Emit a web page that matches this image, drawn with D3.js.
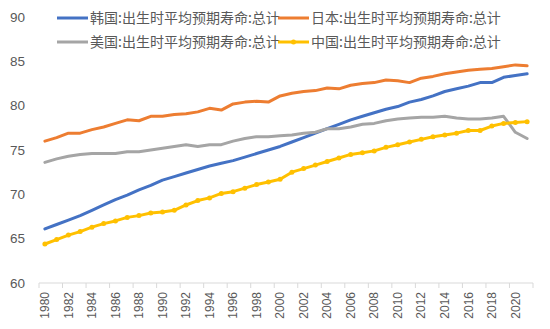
<!DOCTYPE html>
<html><head><meta charset="utf-8">
<script src="https://cdn.jsdelivr.net/npm/d3@7"></script>
<style>body{margin:0;background:#fff}svg{display:block}text{font-family:"Noto Sans CJK SC","Liberation Sans",Arial,sans-serif}.num{font-family:"Liberation Sans",Arial,sans-serif}</style>
</head><body><svg id="c" width="550" height="329"></svg>
<script>
const years = d3.range(1980, 2022);
const korea = [66.1,66.6,67.1,67.6,68.2,68.8,69.4,69.9,70.5,71.0,71.6,72.0,72.4,72.8,73.2,73.5,73.8,74.2,74.6,75.0,75.4,75.9,76.4,76.9,77.4,77.9,78.4,78.8,79.2,79.6,79.9,80.4,80.7,81.1,81.6,81.9,82.2,82.6,82.6,83.2,83.4,83.6];
const japan = [76.0,76.4,76.9,76.9,77.3,77.6,78.0,78.4,78.3,78.8,78.8,79.0,79.1,79.3,79.7,79.5,80.2,80.4,80.5,80.4,81.1,81.4,81.6,81.7,82.0,81.9,82.3,82.5,82.6,82.9,82.8,82.6,83.1,83.3,83.6,83.8,84.0,84.1,84.2,84.4,84.6,84.5];
const usa = [73.6,74.0,74.3,74.5,74.6,74.6,74.6,74.8,74.8,75.0,75.2,75.4,75.6,75.4,75.6,75.6,76.0,76.3,76.5,76.5,76.6,76.7,76.9,77.0,77.4,77.4,77.6,77.9,78.0,78.3,78.5,78.6,78.7,78.7,78.8,78.6,78.5,78.5,78.6,78.8,77.0,76.3];
const china = [64.4,64.9,65.4,65.8,66.3,66.7,67.0,67.4,67.6,67.9,68.0,68.2,68.8,69.3,69.6,70.1,70.3,70.7,71.1,71.4,71.7,72.5,72.9,73.3,73.7,74.1,74.5,74.7,74.9,75.3,75.6,75.9,76.2,76.5,76.7,76.9,77.2,77.2,77.7,78.0,78.1,78.2];
const yTicks = [60,65,70,75,80,85,90];
const series = [
  {name:"韩国:出生时平均预期寿命:总计", values:korea, color:"#4472C4", marker:false},
  {name:"日本:出生时平均预期寿命:总计", values:japan, color:"#ED7D31", marker:false},
  {name:"美国:出生时平均预期寿命:总计", values:usa, color:"#A5A5A5", marker:false},
  {name:"中国:出生时平均预期寿命:总计", values:china, color:"#FFC000", marker:true}
];
const svg = d3.select("#c");
const L=39, R=533, T=17, B=283;
const x = d3.scaleBand().domain(years).range([L,R]);
const y = d3.scaleLinear().domain([60,90]).range([B,T]);

// y labels
svg.append("g").selectAll("text").data(yTicks).join("text").attr("class","num")
  .attr("x",25).attr("y",d=>y(d)).attr("dy","0.35em").attr("text-anchor","end")
  .attr("font-size",13.5).attr("fill","#595959").text(d=>d);

// x axis
svg.append("line").attr("x1",L).attr("x2",R).attr("y1",B).attr("y2",B).attr("stroke","#D9D9D9").attr("stroke-width",1);
const tickYears = years.filter((d,i)=>i%2===0);
svg.append("g").selectAll("line").data(tickYears.concat([null])).join("line")
  .attr("x1",d=>d===null?R:x(d)).attr("x2",d=>d===null?R:x(d))
  .attr("y1",B).attr("y2",B+5).attr("stroke","#D9D9D9");
svg.append("g").selectAll("text").data(tickYears).join("text").attr("class","num")
  .attr("transform",d=>`translate(${x(d)+x.bandwidth()/2},292) rotate(-90)`)
  .attr("text-anchor","end").attr("dy","0.35em")
  .attr("font-size",12).attr("fill","#595959").text(d=>d);

// lines
const line = d3.line().x((d,i)=>x(years[i])+x.bandwidth()/2).y(d=>y(d));
series.forEach(s=>{
  svg.append("path").datum(s.values).attr("d",line).attr("fill","none")
    .attr("stroke",s.color).attr("stroke-width",3).attr("stroke-linejoin","round").attr("stroke-linecap","round");
  if(s.marker){
    svg.append("g").selectAll("circle").data(s.values).join("circle")
      .attr("cx",(d,i)=>x(years[i])+x.bandwidth()/2).attr("cy",d=>y(d)).attr("r",2.5).attr("fill",s.color);
  }
});

// legend
const legPos = [[57,18],[278,18],[57,42],[278,42]];
series.forEach((s,i)=>{
  const [lx,ly]=legPos[i];
  const g = svg.append("g").attr("transform",`translate(${lx},${ly})`);
  g.append("line").attr("x1",0).attr("x2",31).attr("y1",0).attr("y2",0).attr("stroke",s.color).attr("stroke-width",3);
  if(s.marker) g.append("circle").attr("cx",15.5).attr("cy",0).attr("r",2.5).attr("fill",s.color);
  g.append("text").attr("x",33).attr("y",0).attr("dy","0.35em").attr("font-size",14).attr("fill","#595959").text(s.name);
});
</script></body></html>
